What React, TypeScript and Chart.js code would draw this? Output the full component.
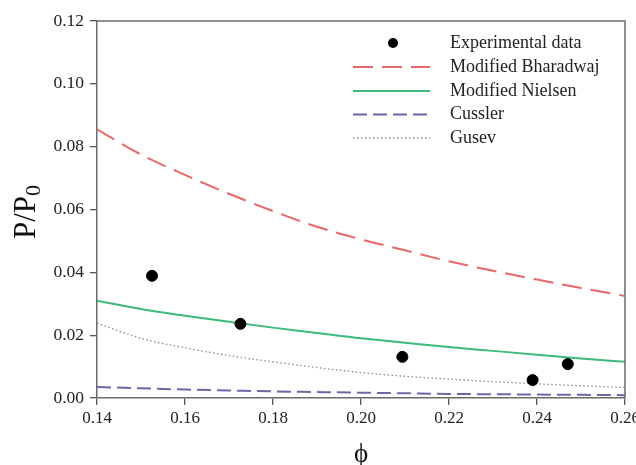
import React, { useEffect, useRef } from "react";
import { Chart, registerables } from "chart.js";

Chart.register(...registerables);

// ---- Data ----
const phiModel = [0.14, 0.15, 0.16, 0.17, 0.18, 0.19, 0.2, 0.21, 0.22, 0.23, 0.24, 0.25, 0.26];
const bharadwaj = [0.0855, 0.0775, 0.071, 0.065, 0.0595, 0.0545, 0.0505, 0.047, 0.0435, 0.0405, 0.0377, 0.035, 0.0325];
const nielsen = [0.031, 0.0283, 0.0262, 0.0243, 0.0224, 0.0207, 0.019, 0.0176, 0.0162, 0.015, 0.0138, 0.0126, 0.0115];
const cussler = [0.0035, 0.0031, 0.0027, 0.0024, 0.0021, 0.0019, 0.0017, 0.0015, 0.0013, 0.0012, 0.0011, 0.001, 0.0009];
const gusev = [0.0238, 0.019, 0.016, 0.0135, 0.0115, 0.0097, 0.0081, 0.0069, 0.006, 0.0052, 0.0045, 0.0039, 0.0033];
const expPhi = [0.1525, 0.1726, 0.2094, 0.239, 0.247];
const expP = [0.0389, 0.0236, 0.0131, 0.0057, 0.0108];

const xTicks = [0.14, 0.16, 0.18, 0.2, 0.22, 0.24, 0.26];
const yTicks = [0, 0.02, 0.04, 0.06, 0.08, 0.1, 0.12];

const legendLabels = ["Experimental data", "Modified Bharadwaj", "Modified Nielsen", "Cussler", "Gusev"];

const SERIF = "'Liberation Serif', 'Times New Roman', serif";
const RED = "#e8676b";
const GREEN = "#3dba7c";
const PURPLE = "#6a68a6";
const GREY = "#8a8a8a";

const toPts = (xs: number[], ys: number[]) => xs.map((x, i) => ({ x, y: ys[i] }));

export default function App() {
  const ref = useRef<HTMLCanvasElement | null>(null);

  useEffect(() => {
    document.body.style.margin = "0";
    const canvas = ref.current;
    if (!canvas) return;

    const decorPlugin = {
      id: "decor",
      afterDraw(chart: any) {
        const { ctx, chartArea } = chart;
        const { left, right, top, bottom } = chartArea;
        ctx.save();
        // frame (top & right)
        ctx.strokeStyle = "#6b6b6b";
        ctx.lineWidth = 1.5;
        ctx.beginPath();
        ctx.moveTo(left, top);
        ctx.lineTo(right, top);
        ctx.lineTo(right, bottom);
        ctx.stroke();

        // legend
        const rowY = [43, 67, 91, 114.5, 138];
        const lx0 = 353, lx1 = 430, tx = 450;
        const styles = [
          null,
          { c: RED, d: [20, 9], w: 2 },
          { c: GREEN, d: [], w: 2 },
          { c: PURPLE, d: [14, 6], w: 2 },
          { c: GREY, d: [1.5, 2.5], w: 1.3 },
        ];
        ctx.font = `18px ${SERIF}`;
        ctx.textBaseline = "middle";
        ctx.textAlign = "left";
        legendLabels.forEach((lab, i) => {
          const y = rowY[i];
          const s = styles[i];
          if (!s) {
            ctx.fillStyle = "#000";
            ctx.beginPath();
            ctx.arc(393, y, 5, 0, Math.PI * 2);
            ctx.fill();
          } else {
            ctx.strokeStyle = s.c;
            ctx.lineWidth = s.w;
            ctx.setLineDash(s.d);
            ctx.beginPath();
            ctx.moveTo(lx0, y);
            ctx.lineTo(lx1, y);
            ctx.stroke();
            ctx.setLineDash([]);
          }
          ctx.fillStyle = "#222";
          ctx.fillText(lab, tx, y);
        });

        // y title P/P0
        ctx.save();
        ctx.translate(27, 212);
        ctx.rotate(-Math.PI / 2);
        ctx.fillStyle = "#111";
        ctx.textBaseline = "middle";
        const main = "P/P";
        ctx.font = `31px ${SERIF}`;
        const w1 = ctx.measureText(main).width;
        ctx.font = `22px ${SERIF}`;
        const w2 = ctx.measureText("0").width;
        const startX = -(w1 + w2) / 2;
        ctx.font = `31px ${SERIF}`;
        ctx.textAlign = "left";
        ctx.fillText(main, startX, 0);
        ctx.font = `22px ${SERIF}`;
        ctx.fillText("0", startX + w1, 7);
        ctx.restore();

        // x title phi
        ctx.fillStyle = "#111";
        ctx.font = `27px ${SERIF}`;
        ctx.textAlign = "center";
        ctx.textBaseline = "middle";
        ctx.fillText("\u03D5", (left + right) / 2, 455);
        ctx.restore();
      },
    };

    const chart = new Chart(canvas, {
      type: "scatter",
      data: {
        datasets: [
          {
            label: legendLabels[0],
            data: toPts(expPhi, expP),
            backgroundColor: "#000",
            borderColor: "#000",
            pointRadius: 5.5,
            showLine: false,
          },
          {
            label: legendLabels[1],
            data: toPts(phiModel, bharadwaj),
            borderColor: RED,
            borderWidth: 2,
            borderDash: [20, 9],
            pointRadius: 0,
            showLine: true,
            cubicInterpolationMode: "monotone",
          },
          {
            label: legendLabels[2],
            data: toPts(phiModel, nielsen),
            borderColor: GREEN,
            borderWidth: 2,
            pointRadius: 0,
            showLine: true,
            cubicInterpolationMode: "monotone",
          },
          {
            label: legendLabels[3],
            data: toPts(phiModel, cussler),
            borderColor: PURPLE,
            borderWidth: 2,
            borderDash: [14, 6],
            pointRadius: 0,
            showLine: true,
            cubicInterpolationMode: "monotone",
          },
          {
            label: legendLabels[4],
            data: toPts(phiModel, gusev),
            borderColor: GREY,
            borderWidth: 1.3,
            borderDash: [1.5, 2.5],
            pointRadius: 0,
            showLine: true,
            cubicInterpolationMode: "monotone",
          },
        ] as any,
      },
      options: {
        animation: false,
        responsive: false,
        maintainAspectRatio: false,
        layout: { padding: { top: 21, right: 11, left: 0, bottom: 0 } },
        plugins: {
          legend: { display: false },
          tooltip: { enabled: false },
        },
        scales: {
          x: {
            type: "linear",
            min: 0.14,
            max: 0.26,
            afterBuildTicks: (s: any) => {
              s.ticks = xTicks.map((v) => ({ value: v }));
            },
            afterFit: (s: any) => {
              s.height = 67;
              s.paddingLeft = 0;
              s.paddingRight = 0;
            },
            ticks: {
              color: "#222",
              font: { family: SERIF, size: 17 },
              padding: 3,
              maxRotation: 0,
              callback: (v: any) => Number(v).toFixed(2),
            },
            grid: { drawOnChartArea: false, drawTicks: true, tickLength: 7, color: "#555", lineWidth: 1.3 },
            border: { display: true, color: "#6b6b6b", width: 1.5 },
          },
          y: {
            type: "linear",
            min: 0,
            max: 0.12,
            afterBuildTicks: (s: any) => {
              s.ticks = yTicks.map((v) => ({ value: v }));
            },
            afterFit: (s: any) => {
              s.width = 97;
              s.paddingTop = 0;
              s.paddingBottom = 0;
            },
            ticks: {
              color: "#222",
              font: { family: SERIF, size: 17.5 },
              padding: 6,
              callback: (v: any) => Number(v).toFixed(2),
            },
            grid: { drawOnChartArea: false, drawTicks: true, tickLength: 7, color: "#555", lineWidth: 1.3 },
            border: { display: true, color: "#6b6b6b", width: 1.5 },
          },
        },
      },
      plugins: [decorPlugin],
    });

    return () => chart.destroy();
  }, []);

  return (
    <div style={{ width: 636, height: 465, background: "#fff" }}>
      <canvas ref={ref} width={636} height={465} />
    </div>
  );
}
